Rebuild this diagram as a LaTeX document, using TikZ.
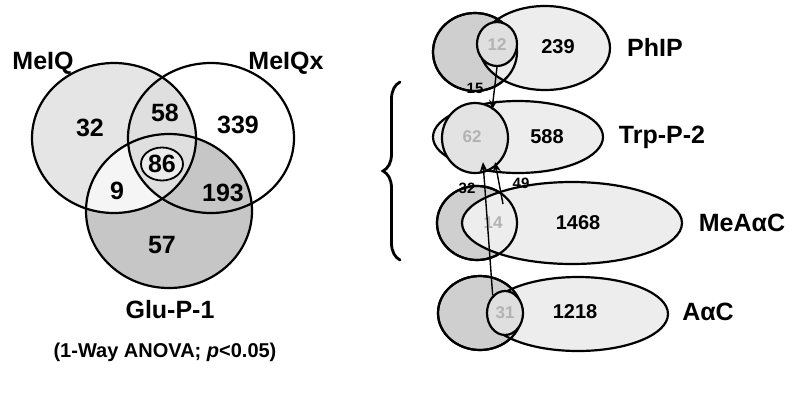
\documentclass[tikz,border=0pt]{standalone}
\usepackage{fontspec}
\setmainfont{Liberation Sans}
\usetikzlibrary{shapes.geometric,arrows.meta,decorations.pathreplacing}
\begin{document}
\begin{tikzpicture}[x=1pt,y=-1pt,
  ell/.style={ellipse,draw,line width=2.2pt,inner sep=0pt},
  lab/.style={font=\fontsize{25}{25}\selectfont\bfseries},
  num/.style={font=\fontsize{25}{25}\selectfont\bfseries},
  rnum/.style={font=\fontsize{20}{20}\selectfont\bfseries},
  snum/.style={font=\fontsize{15}{15}\selectfont\bfseries},
  fnum/.style={font=\fontsize{17}{17}\selectfont\bfseries,text=gray!60},
  arr/.style={line width=1.4pt,-{Stealth[length=10pt,width=8pt]}}]
\useasboundingbox (0,0) rectangle (795,400);
\fill[white] (0,0) rectangle (795,400);

% ---------- left Venn: fills ----------
\fill[gray!20] (114,138) ellipse [x radius=82pt,y radius=75pt];
\fill[gray!45] (169,211) ellipse [x radius=83pt,y radius=77pt];
\begin{scope}
  \clip (114,138) ellipse [x radius=82pt,y radius=75pt];
  \clip (169,211) ellipse [x radius=83pt,y radius=77pt];
  \fill[gray!8,even odd rule] (0,0) rectangle (400,400)
    (211,138) ellipse [x radius=83pt,y radius=75pt];
\end{scope}
\begin{scope}
  \clip (114,138) ellipse [x radius=82pt,y radius=75pt];
  \clip (211,138) ellipse [x radius=83pt,y radius=75pt];
  \fill[gray!25] (0,0) rectangle (400,400);
\end{scope}

% ---------- left Venn: outlines ----------
\node[ell,minimum width=164pt,minimum height=150pt] (meiq) at (114,138) {};
\node[ell,minimum width=166pt,minimum height=150pt] (meiqx) at (211,138) {};
\node[ell,minimum width=166pt,minimum height=154pt] (glu) at (169,211) {};
\node[ell,line width=1.8pt,fill=gray!15,minimum width=42pt,minimum height=33pt] (c86) at (162,164) {};

\node[lab] (lmeiq) at (43,63) {MeIQ};
\node[lab] (lmeiqx) at (286,63) {MeIQx};
\node[lab] (lglu) at (170,310) {Glu-P-1};
\node[font=\fontsize{20}{20}\selectfont\bfseries] (anova) at (165,352) {(1-Way ANOVA; {\itshape p}<0.05)};

\node[num] (n32) at (90,128) {32};
\node[num] (n58) at (165,113) {58};
\node[num] (n339) at (238,125) {339};
\node[num] (n86) at (162,164) {86};
\node[num] (n9) at (117,191) {9};
\node[num] (n193) at (223,193) {193};
\node[num] (n57) at (162,245) {57};

% ---------- brace ----------
\coordinate (bt) at (400,82);
\coordinate (bb) at (400,260);
\draw[decorate,decoration={brace,amplitude=17pt},line width=2.8pt,line cap=round] (bb) -- (bt);

% ---------- right: PhIP ----------
\node[ell,fill=gray!38,minimum width=84pt,minimum height=78pt] (phl) at (475,52) {};
\node[ell,fill=gray!14,minimum width=130pt,minimum height=84pt] (phr) at (545,48) {};
\draw[line width=2.2pt] (475,52) ellipse [x radius=42pt,y radius=39pt];
\node[ell,fill=gray!25,minimum width=40pt,minimum height=44pt] (phin) at (497,44) {};
\node[fnum] (n12) at (497,45) {12};
\node[rnum] (n239) at (558,47) {239};
\node[lab] (lphip) at (655,47) {PhIP};

% ---------- right: Trp-P-2 ----------
\node[ell,fill=gray!14,minimum width=170pt,minimum height=72pt] (trp) at (518,137) {};
\node[ell,fill=gray!22,minimum width=66pt,minimum height=70pt] (trpin) at (475,138) {};
\node[fnum] (n62) at (472,137) {62};
\node[rnum] (n588) at (547,137) {588};
\node[lab] (ltrp) at (662,137) {Trp-P-2};

% ---------- right: MeAaC ----------
\node[ell,fill=gray!38,minimum width=80pt,minimum height=74pt] (mel) at (477,223) {};
\node[ell,fill=gray!14,minimum width=220pt,minimum height=82pt] (mer) at (572,223) {};
\draw[line width=2.2pt] (477,223) ellipse [x radius=40pt,y radius=37pt];
\node[fnum] (n14) at (493,223) {14};
\node[rnum] (n1468) at (578,223) {1468};
\node[lab] (lmeaac) at (742,223) {MeAαC};

% ---------- right: AaC ----------
\node[ell,fill=gray!38,minimum width=84pt,minimum height=74pt] (aal) at (480,313) {};
\node[ell,fill=gray!14,minimum width=180pt,minimum height=74pt] (aar) at (578,314) {};
\draw[line width=2.2pt] (480,313) ellipse [x radius=42pt,y radius=37pt];
\node[ell,fill=gray!25,minimum width=36pt,minimum height=44pt] (aain) at (505,313) {};
\node[fnum] (n31) at (505,313) {31};
\node[rnum] (n1218) at (575,312) {1218};
\node[lab] (laac) at (708,312) {AαC};

% ---------- arrows ----------
\coordinate (tip1) at (492,110);
\coordinate (tip2) at (483,162);
\coordinate (tip3) at (495,162);
\coordinate (s3) at (503,204);
\draw[arr] (phin.south) -- (tip1);
\draw[arr] (aain.125) -- (tip2);
\draw[arr] (s3) -- (tip3);

\node[snum] (n15) at (475,88) {15};
\node[snum] (nn32) at (467,188) {32};
\node[snum] (n49) at (521,183) {49};
\end{tikzpicture}
\end{document}
